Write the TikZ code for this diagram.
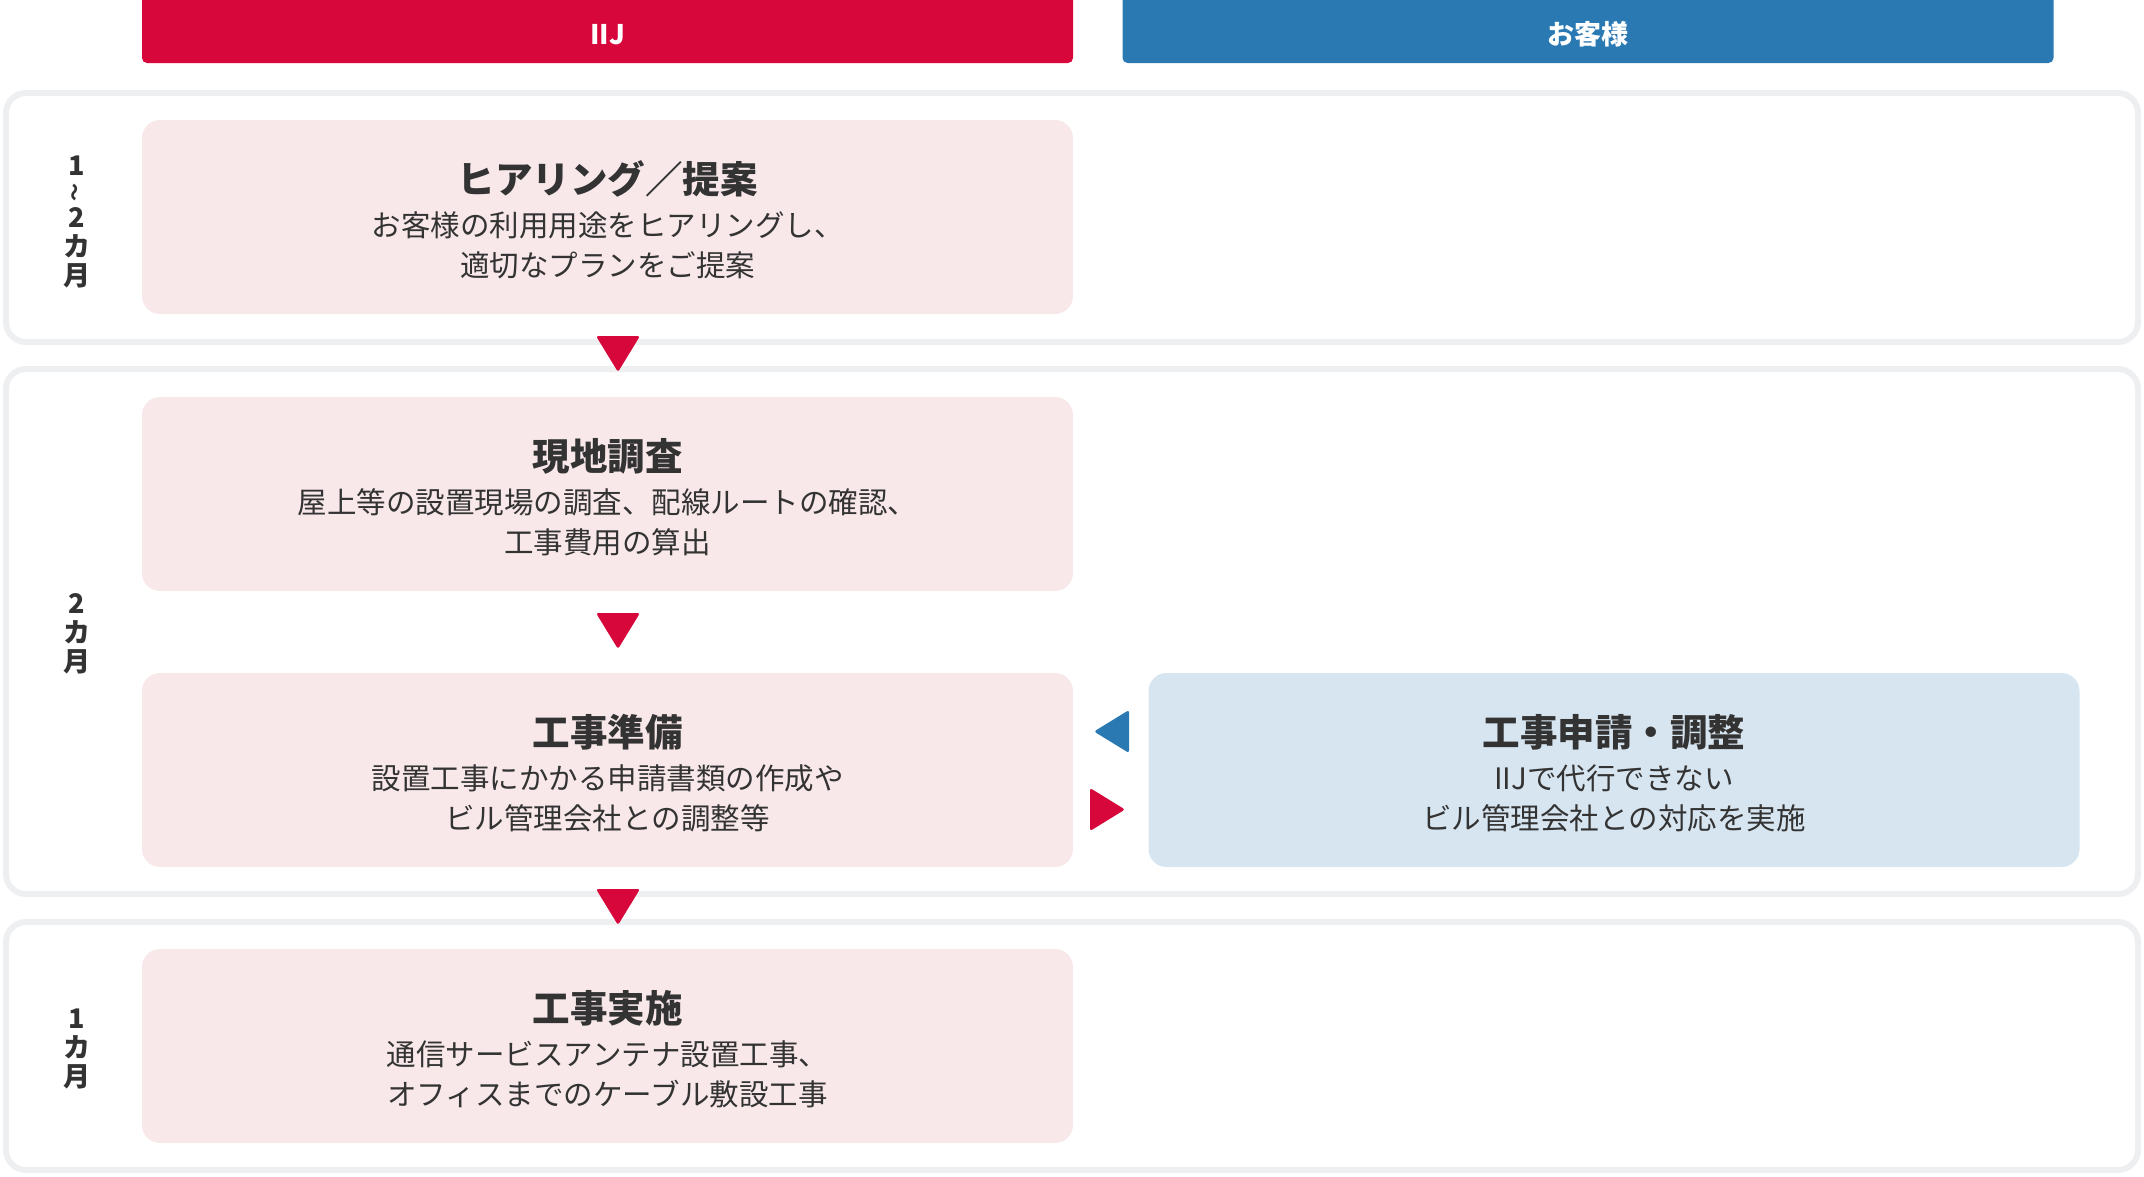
\documentclass[tikz,border=0pt]{standalone}
\usepackage{fontspec}
\usepackage{graphicx}
\setmainfont{Noto Sans CJK JP}
\definecolor{iijred}{HTML}{D7063B}
\definecolor{custblue}{HTML}{2B79B3}
\definecolor{pinkbg}{HTML}{F8E8EA}
\definecolor{bluebg}{HTML}{D7E5F0}
\definecolor{framegray}{HTML}{EEEFF1}
\definecolor{ink}{HTML}{333333}
\tikzset{
  header/.style={rounded corners=5pt, minimum width=931pt, minimum height=73pt,
    inner sep=0pt, text height=35pt, text depth=0pt, text=white,
    font=\fontsize{27}{32}\selectfont\bfseries},
  rowframe/.style={draw=framegray, line width=6pt, rounded corners=20pt,
    minimum width=2132pt, inner sep=0pt},
  stepbox/.style={fill=pinkbg, rounded corners=18pt, minimum width=931pt,
    minimum height=194pt, inner sep=0pt},
  custbox/.style={stepbox, fill=bluebg},
  steptitle/.style={text=ink, font=\fontsize{37.5}{44}\selectfont\bfseries},
  steptext/.style={text=ink, align=center, font=\fontsize{29.5}{40}\selectfont},
  rowlabel/.style={text=ink, align=center, font=\fontsize{27}{29}\selectfont\bfseries},
  flowmark/.style={rounded corners=2.5pt}
}
\begin{document}
\begin{tikzpicture}[x=1pt, y=-1pt]
\clip (0,0) rectangle (2144,1176);
% column headers
\node[header, fill=iijred] (iij) at (607.5,26.5) {IIJ};
\node[header, fill=custblue] (cust) at (1588,26.5) {お客様};
% period rows
\node[rowframe, minimum height=249pt] (row1) at (1072,217.5) {};
\node[rowframe, minimum height=525pt] (row2) at (1072,631.5) {};
\node[rowframe, minimum height=248pt] (row3) at (1072,1046) {};
\node[rowlabel] (p1) at (77,222) {1\\[-3pt]\rotatebox{90}{\fontsize{18}{18}\selectfont 〜}\\[-3pt]2\\カ\\月};
\node[rowlabel] (p2) at (77,634) {2\\カ\\月};
\node[rowlabel] (p3) at (77,1049) {1\\カ\\月};
% steps
\node[stepbox] (hearing) at (607.5,217) {};
\node[steptitle] (hearing-t) at (607.5,179) {ヒアリング／提案};
\node[steptext] (hearing-d) at (607.5,245) {お客様の利用用途をヒアリングし、\\適切なプランをご提案};
\node[stepbox] (survey) at (607.5,494) {};
\node[steptitle] (survey-t) at (607.5,456) {現地調査};
\node[steptext] (survey-d) at (607.5,522) {屋上等の設置現場の調査、配線ルートの確認、\\工事費用の算出};
\node[stepbox] (prep) at (607.5,770) {};
\node[steptitle] (prep-t) at (607.5,732) {工事準備};
\node[steptext] (prep-d) at (607.5,798) {設置工事にかかる申請書類の作成や\\ビル管理会社との調整等};
\node[custbox] (apply) at (1614,770) {};
\node[steptitle] (apply-t) at (1614,732) {工事申請・調整};
\node[steptext] (apply-d) at (1614,798) {IIJで代行できない\\ビル管理会社との対応を実施};
\node[stepbox] (work) at (607.5,1046) {};
\node[steptitle] (work-t) at (607.5,1008) {工事実施};
\node[steptext] (work-d) at (607.5,1074) {通信サービスアンテナ設置工事、\\オフィスまでのケーブル敷設工事};
% flow marks
\foreach \y in {336,613,889}
  \fill[iijred, flowmark] (596,\y) -- (640,\y) -- (618,\y+36) -- cycle;
\fill[custblue, flowmark] (1129,710) -- (1129,753) -- (1094,731.5) -- cycle;
\fill[iijred, flowmark] (1090,788) -- (1125,809.5) -- (1090,831) -- cycle;
\end{tikzpicture}
\end{document}
